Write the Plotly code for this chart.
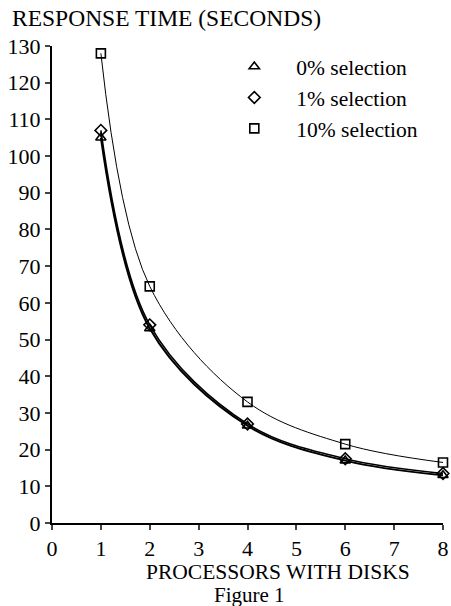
import plotly.graph_objects as go

processors = [1, 2, 4, 6, 8]
sel0 = [105, 53, 26.5, 17, 13]
sel1 = [107, 54, 27, 17.5, 13.5]
sel10 = [128, 64.5, 33, 21.5, 16.5]
names = ["0% selection", "1% selection", "10% selection"]
symbols = ["triangle-up-open", "diamond-open", "square-open"]
x_ticks = list(range(0, 9))
y_ticks = list(range(0, 131, 10))

FONT = "Liberation Serif"
fig = go.Figure()
series = [sel0, sel1, sel10]
widths = [2.0, 1.6, 1.0]
for s, w in zip(series, widths):
    fig.add_trace(go.Scatter(x=processors, y=s, mode="lines",
                             line=dict(color="black", width=w, shape="spline", smoothing=1.0),
                             showlegend=False, hoverinfo="skip", cliponaxis=False))
for i, (s, n, sym) in enumerate(zip(series, names, symbols)):
    fig.add_trace(go.Scatter(x=processors, y=s, mode="markers", name=n, legendgroup=str(i),
                             marker=dict(symbol=sym, size=9, color="black", line=dict(width=1.6, color="black")),
                             cliponaxis=False))

fig.update_layout(
    width=451, height=606,
    margin=dict(l=52, r=8, t=46, b=83),
    paper_bgcolor="white", plot_bgcolor="white",
    font=dict(family=FONT, size=22, color="black"),
    showlegend=True,
    legend=dict(x=0.41, y=1.0, xanchor="left", yanchor="top", bgcolor="rgba(0,0,0,0)",
                itemwidth=74, tracegroupgap=0, traceorder="grouped",
                font=dict(family=FONT, size=21.5, color="black")),
    xaxis=dict(range=[0, 8], tickvals=x_ticks, ticks="outside", ticklen=5, tickwidth=2,
               showline=True, linewidth=2, linecolor="black", showgrid=False, zeroline=False,
               tickfont=dict(size=22), automargin=False),
    yaxis=dict(range=[0, 130], tickvals=y_ticks, ticks="outside", ticklen=5, tickwidth=2,
               showline=True, linewidth=2, linecolor="black", showgrid=False, zeroline=False,
               tickfont=dict(size=22), ticklabelstandoff=0, automargin=False),
)
fig.add_annotation(text="RESPONSE TIME (SECONDS)", xref="paper", yref="paper", x=-0.108, y=1.0,
                   yshift=28, xanchor="left", yanchor="middle", showarrow=False, font=dict(size=23.5))
fig.add_annotation(text="PROCESSORS WITH DISKS", xref="paper", yref="paper", x=0.579, y=0,
                   yshift=-49, xanchor="center", yanchor="middle", showarrow=False, font=dict(size=21.5))
fig.add_annotation(text="Figure 1", xref="paper", yref="paper", x=0.504, y=0,
                   yshift=-72, xanchor="center", yanchor="middle", showarrow=False, font=dict(size=21))
fig.write_html("out.html")
